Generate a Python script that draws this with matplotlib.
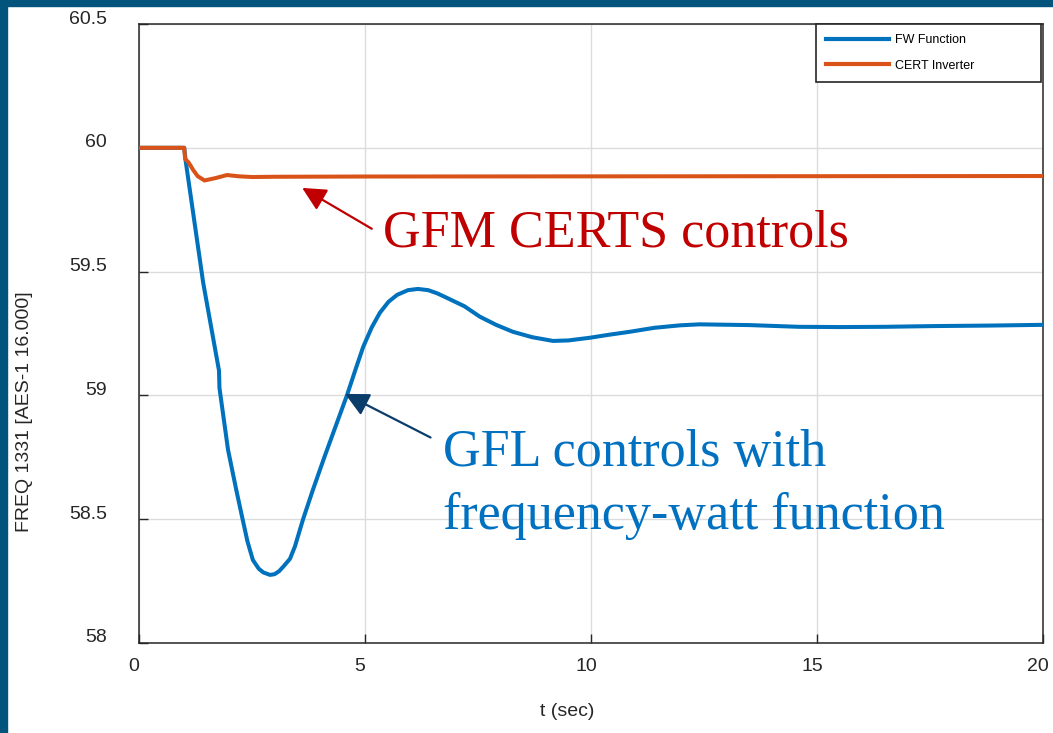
import matplotlib
matplotlib.use('Agg')
import matplotlib.pyplot as plt
from matplotlib.patches import Rectangle
from matplotlib.transforms import ScaledTranslation

# FW Function (GFL inverter with frequency-watt)
t_fw = [0, 1.0, 1.03, 1.42, 1.77, 1.78, 1.97, 2.15, 2.28, 2.4, 2.52, 2.65, 2.75,
        2.9, 3.0, 3.1, 3.2, 3.34, 3.45, 3.63, 3.85, 4.1, 4.35, 4.6, 4.8, 4.96,
        5.15, 5.33, 5.52, 5.71, 5.95, 6.17, 6.4, 6.6, 6.81, 7.2, 7.54, 7.9, 8.27,
        8.7, 9.16, 9.5, 9.98, 10.4, 10.86, 11.4, 11.97, 12.4, 13.5, 14.6, 15.5,
        16.5, 17.6, 18.8, 20]
f_fw = [60, 60, 59.95, 59.455, 59.10, 59.03, 58.78, 58.62, 58.51, 58.41, 58.335,
        58.3, 58.285, 58.275, 58.278, 58.29, 58.31, 58.34, 58.39, 58.5, 58.62,
        58.75, 58.875, 59.0, 59.11, 59.196, 59.275, 59.334, 59.378, 59.406,
        59.425, 59.43, 59.425, 59.412, 59.394, 59.36, 59.318, 59.285, 59.257,
        59.235, 59.22, 59.222, 59.233, 59.245, 59.257, 59.273, 59.283, 59.287,
        59.284, 59.277, 59.276, 59.277, 59.28, 59.282, 59.285]

# CERT Inverter (GFM CERTS)
t_cert = [0, 1.0, 1.02, 1.1, 1.2, 1.3, 1.45, 1.7, 1.95, 2.2, 2.5, 3, 5, 20]
f_cert = [60, 60, 59.955, 59.94, 59.91, 59.885, 59.868, 59.878, 59.89, 59.885,
          59.882, 59.883, 59.884, 59.886]

x_ticks = [0, 5, 10, 15, 20]
y_ticks = [58, 58.5, 59, 59.5, 60, 60.5]
y_ticklabels = ['58', '58.5', '59', '59.5', '60', '60.5']

plt.rcParams['font.family'] = ['Liberation Sans', 'DejaVu Sans']

fig = plt.figure(figsize=(10.53, 7.33), dpi=100)
ax = fig.add_axes([139/1053, 90/733, 904/1053, 619/733])

# dark blue slide frame
fig.add_artist(Rectangle((0, 0), 7/1053, 1, transform=fig.transFigure,
                         color='#02547C', zorder=10))
fig.add_artist(Rectangle((0, 1 - 6/733), 1, 6/733, transform=fig.transFigure,
                         color='#02547C', zorder=10))

ax.plot(t_fw, f_fw, color='#0072BD', lw=2.9, label='FW Function', zorder=3,
        solid_joinstyle='round')
ax.plot(t_cert, f_cert, color='#D95319', lw=2.9, label='CERT Inverter', zorder=4,
        solid_joinstyle='round')

ax.set_xlim(0, 20)
ax.set_ylim(58, 60.5)
ax.set_xticks(x_ticks)
ax.set_xticklabels([str(v) for v in x_ticks])
ax.set_yticks(y_ticks)
ax.set_yticklabels(y_ticklabels)
ax.grid(True, color='#DCDCDC', lw=1.0, zorder=0)
ax.set_axisbelow(True)

for sp in ax.spines.values():
    sp.set_color('#262626')
    sp.set_linewidth(1.1)

ax.tick_params(axis='both', direction='in', length=6.5, width=1.0,
               colors='#262626', labelsize=14, labelcolor='#262626')
ax.tick_params(axis='y', pad=23)
ax.tick_params(axis='x', pad=11)

# labels sit a little off their ticks in the original
for tk in ax.yaxis.get_major_ticks():
    lab = tk.label1
    lab.set_transform(lab.get_transform() + ScaledTranslation(0, 7/100, fig.dpi_scale_trans))
for tk in ax.xaxis.get_major_ticks():
    lab = tk.label1
    lab.set_transform(lab.get_transform() + ScaledTranslation(-5/100, 0, fig.dpi_scale_trans))

fig.text(567/1053, 1 - 711/733, 't (sec)', ha='center', va='center',
         fontsize=14, color='#262626')
fig.text(25/1053, 1 - 412/733, 'FREQ 1331 [AES-1 16.000]', ha='center',
         va='center', rotation=90, fontsize=14, color='#262626')

leg = ax.legend(loc='upper left', bbox_to_anchor=(0.749, 0.905, 0.249, 0.095),
                mode='expand', fontsize=9, handlelength=5.0, handletextpad=0.5,
                labelspacing=1.1, borderpad=0.8, borderaxespad=0,
                fancybox=False, framealpha=1, edgecolor='#262626')
leg.get_frame().set_linewidth(1.2)
for line in leg.get_lines():
    line.set_linewidth(3.0)

# annotations
serif = ['Liberation Serif', 'DejaVu Serif']
ax.annotate('', xy=(3.61, 59.838), xytext=(5.15, 59.673),
            arrowprops=dict(arrowstyle='-|>,head_length=0.9,head_width=0.45',
                            color='#C00000', lw=1.6, mutation_scale=16,
                            shrinkA=0, shrinkB=0))
ax.text(5.40, 59.60, 'GFM CERTS controls', color='#C00000', fontsize=37.5,
        family=serif, va='baseline', ha='left')

ax.annotate('', xy=(4.56, 59.006), xytext=(6.45, 58.83),
            arrowprops=dict(arrowstyle='-|>,head_length=0.9,head_width=0.45',
                            color='#0B3D6B', lw=1.6, mutation_scale=16,
                            shrinkA=0, shrinkB=0))
ax.text(6.73, 58.716, 'GFL controls with', color='#0070C0', fontsize=37.5,
        family=serif, va='baseline', ha='left')
ax.text(6.73, 58.461, 'frequency-watt function', color='#0070C0', fontsize=37.5,
        family=serif, va='baseline', ha='left')

fig.savefig('out.png', dpi=100)
